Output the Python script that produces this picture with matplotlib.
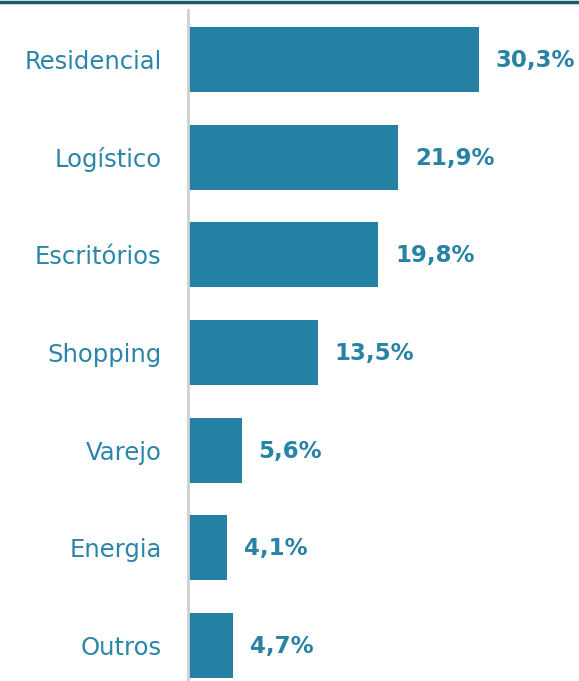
import matplotlib
matplotlib.use("Agg")
import matplotlib.pyplot as plt
from matplotlib.lines import Line2D

categories = ["Residencial", "Logístico", "Escritórios", "Shopping", "Varejo", "Energia", "Outros"]
values = [30.3, 21.9, 19.8, 13.5, 5.6, 4.1, 4.7]
labels = ["30,3%", "21,9%", "19,8%", "13,5%", "5,6%", "4,1%", "4,7%"]

bar_color = "#2581a3"
text_color = "#2a86a8"

fig = plt.figure(figsize=(5.79, 6.81), dpi=100)
ax = fig.add_axes([188 / 579, 0, 1 - 188 / 579, 671 / 681])

y = list(range(len(categories)))
ax.barh(y, values, height=0.665, color=bar_color)

# value labels to the right of each bar
for yi, v, lab in zip(y, values, labels):
    ax.text(v + 1.75, yi + 0.01, lab, va="center", ha="left", color="#2782a4",
            fontsize=16.5, fontweight="bold", family="DejaVu Sans")

ax.set_xlim(0, 40.7)
ax.set_ylim(6.362, -0.505)
ax.set_yticks(y)
ax.set_yticklabels(categories, color=text_color, fontsize=17.5, family="DejaVu Sans")
ax.tick_params(axis="y", length=0, pad=19)
ax.set_xticks([])

for s in ["top", "right", "bottom"]:
    ax.spines[s].set_visible(False)
ax.spines["left"].set_color("#d0d0d0")
ax.spines["left"].set_linewidth(2)

# dark rule across the top
fig.add_artist(Line2D([0, 1], [0.997, 0.997], transform=fig.transFigure,
                      color="#1e5a6d", linewidth=2.5))

fig.savefig("out.png", dpi=100)
